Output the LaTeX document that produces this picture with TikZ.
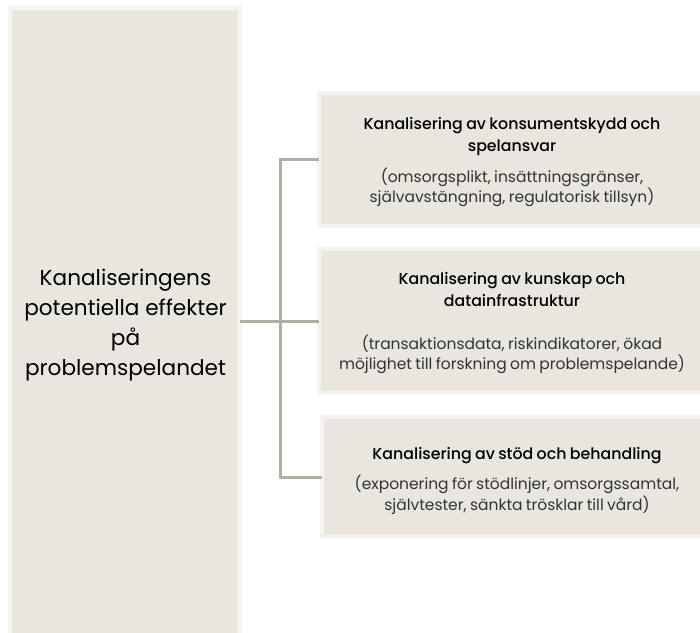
\documentclass[tikz,border=0pt]{standalone}
\usepackage{fontspec}
\setmainfont{Poppins}
\newfontfamily\pmed{Poppins Medium}
\definecolor{boxfill}{HTML}{E9E6E0}
\definecolor{boxedge}{HTML}{F4F3F1}
\definecolor{conncol}{HTML}{B3ADA3}
\definecolor{subcol}{HTML}{333333}
\tikzset{
  panel/.style={rectangle, fill=boxfill, draw=boxedge, line width=4pt, outer sep=0pt, inner sep=0pt, anchor=north west},
  conn/.style={draw=conncol, line width=3pt},
  txtblock/.style={text width=380pt, align=center, inner sep=0pt},
}
\newcommand{\subtxt}[1]{{\color{subcol}\fontsize{15.5}{20.5}\selectfont #1\par}}
\newcommand{\ttltxt}[1]{{\pmed\fontsize{15.8}{22}\selectfont #1\par}}
\begin{document}
\begin{tikzpicture}[x=1pt,y=-1pt]
\useasboundingbox (0,0) rectangle (700,632);
\clip (0,0) rectangle (700,632);
\fill[white] (0,0) rectangle (700,632);
% left box
\node[panel, minimum width=230pt, minimum height=640pt] (src) at (10,8) {};
\node[align=center, font=\fontsize{21.6}{30}\selectfont] (srct) at (125.5,325) {Kanaliseringens\\potentiella effekter\\på\\problemspelandet};
% right boxes
\node[panel, minimum width=386pt, minimum height=133pt] (b1) at (319,93) {};
\node[panel, minimum width=386pt, minimum height=144pt] (b2) at (319,249) {};
\node[panel, minimum width=390pt, minimum height=120pt] (b3) at (322,417) {};
\node[txtblock, yshift=-3pt] (t1) at (b1.center) {%
  \ttltxt{Kanalisering av konsumentskydd och\\spelansvar}\vspace{10pt}%
  \subtxt{(omsorgsplikt, insättningsgränser,\\självavstängning, regulatorisk tillsyn)}};
\node[txtblock, yshift=-2.5pt] (t2) at (b2.center) {%
  \ttltxt{Kanalisering av kunskap och\\datainfrastruktur}\vspace{22pt}%
  \subtxt{(transaktionsdata, riskindikatorer, ökad\\möjlighet till forskning om problemspelande)}};
\node[txtblock, yshift=-3.5pt] (t3) at (b3.center) {%
  \ttltxt{Kanalisering av stöd och behandling}\vspace{10pt}%
  \subtxt{(exponering för stödlinjer, omsorgssamtal,\\självtester, sänkta trösklar till vård)}};
% connectors
\coordinate (j) at (280.5,322);
\draw[conn] (src.east |- b2.west) -- (b2.west);
\draw[conn] (b1.west) -| (j) |- (b3.west);
\end{tikzpicture}
\end{document}
